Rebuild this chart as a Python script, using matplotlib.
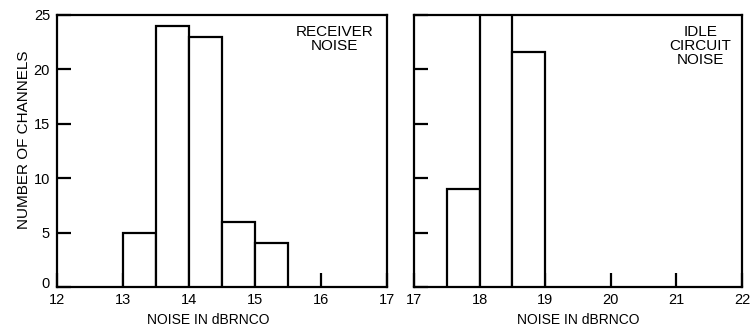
import matplotlib
matplotlib.use("Agg")
import matplotlib.pyplot as plt
import matplotlib.transforms as mtransforms

plt.rcParams['font.family'] = ['Liberation Sans', 'DejaVu Sans']

# Receiver noise histogram (bin left edges, width 0.5 dBRNCO)
rx_edges = [13.0, 13.5, 14.0, 14.5, 15.0]
rx_counts = [5, 24, 23, 6, 4]

# Idle circuit noise histogram
idle_edges = [17.5, 18.0, 18.5]
idle_counts = [9, 25, 21.6]

bin_width = 0.5
rx_xticks = [12, 13, 14, 15, 16, 17]
idle_xticks = [17, 18, 19, 20, 21, 22]
yticks = [0, 5, 10, 15, 20, 25]

LW = 1.6
TICK_FS = 10.5
LABEL_FS = 10
NOTE_FS = 11

fig = plt.figure(figsize=(7.5, 3.29), dpi=100)
ax1 = fig.add_axes([57/750, 42/329, 330/750, 272/329])
ax2 = fig.add_axes([414/750, 42/329, 328/750, 272/329])


def style(ax, edges, counts, xticks, show_y):
    ax.bar(edges, counts, width=bin_width, align='edge', facecolor='white',
           edgecolor='black', linewidth=LW, zorder=3)
    ax.set_xlim(xticks[0], xticks[-1])
    ax.set_ylim(0, 25)
    for s in ax.spines.values():
        s.set_linewidth(LW)
        s.set_zorder(2)
    ax.set_xticks(xticks)
    ax.set_xticklabels([str(t) for t in xticks], fontsize=TICK_FS)
    ax.set_yticks(yticks)
    if show_y:
        ax.set_yticklabels([str(t) for t in yticks], fontsize=TICK_FS)
    else:
        ax.set_yticklabels([])
    ax.tick_params(axis='both', direction='in', length=10, width=LW,
                   colors='black')
    ax.tick_params(axis='x', pad=4.5)
    ax.tick_params(axis='y', pad=5)
    ax.set_xlabel('NOISE IN dBRNCO', fontsize=LABEL_FS)


style(ax1, rx_edges, rx_counts, rx_xticks, True)
style(ax2, idle_edges, idle_counts, idle_xticks, False)

# lift the zero label clear of the x tick labels
zero_lbl = ax1.get_yticklabels()[0]
zero_lbl.set_transform(zero_lbl.get_transform() +
                       mtransforms.ScaledTranslation(0, 5/100, fig.dpi_scale_trans))

ax1.xaxis.set_label_coords(0.458, -0.095)
ax2.xaxis.set_label_coords(0.5, -0.095)
ax1.set_ylabel('NUMBER OF CHANNELS', fontsize=NOTE_FS)
ax1.yaxis.set_label_coords(-0.08, 0.54)

ax1.text(0.84, 0.965, 'RECEIVER\nNOISE', transform=ax1.transAxes,
         ha='center', va='top', fontsize=NOTE_FS, linespacing=1.0)
ax2.text(0.873, 0.965, 'IDLE\nCIRCUIT\nNOISE', transform=ax2.transAxes,
         ha='center', va='top', fontsize=NOTE_FS, linespacing=1.0)

fig.savefig('out.png', dpi=100)
